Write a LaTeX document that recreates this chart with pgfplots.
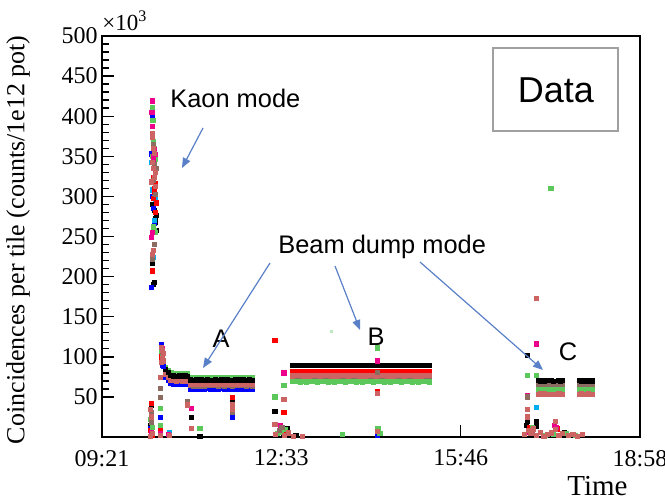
\documentclass[border=0pt]{standalone}
\usepackage{fontspec}
\setmainfont{Liberation Serif}
\newfontfamily\annfont{Liberation Sans}
\usepackage{pgfplots}
\pgfplotsset{compat=1.18}
\usepackage{pgfplotstable}
\usetikzlibrary{arrows.meta}

\definecolor{cgreen}{HTML}{5CC85C}
\definecolor{cbrown}{HTML}{8C6B60}
\definecolor{cired}{HTML}{CC6464}
\definecolor{carrow}{HTML}{5A80C8}
\definecolor{cbox}{HTML}{A0A0A0}

\pgfplotsset{dot/.style={only marks, mark=square*, mark size=1.05pt}}

% plateau levels (x = minutes after 09:21, y in units of 10^3)
\pgfplotstableread{
t   k    r    g    b    n    i
68  84.0 82.0 87.0 74.0 80.0 78.0
71  80.2 78.1 83.1 70.2 76.0 74.1
74  77.1 75.2 80.2 67.3 73.1 71.2
77  76.3 74.1 79.3 66.0 72.2 70.4
80  75.9 73.8 78.8 65.8 71.8 69.9
83  76.2 74.3 79.1 66.1 72.3 70.3
86  75.9 73.9 78.9 65.8 71.7 69.9
89  76.1 74.2 79.1 66.1 72.1 70.1
92  75.9 73.6 78.8 65.8 71.6 69.8
95  71.1 68.2 74.1 60.1 64.1 66.1
98  70.9 67.7 73.9 59.8 63.6 65.8
101 71.2 68.4 74.2 60.2 64.4 66.2
104 70.9 67.8 73.9 59.9 63.8 65.9
107 71.1 68.1 74.1 60.1 64.2 66.1
110 70.9 67.6 73.8 59.8 63.5 65.8
113 71.2 68.3 74.2 60.2 64.3 66.2
116 71.0 67.9 73.9 59.9 63.9 65.9
119 70.8 68.0 73.8 60.0 64.0 66.0
122 71.1 68.2 74.1 60.1 64.1 66.1
125 70.9 67.7 73.9 59.8 63.7 65.8
128 71.1 68.3 74.1 60.2 64.3 66.2
131 70.9 67.8 73.9 59.8 63.8 65.9
134 71.2 68.4 74.2 60.1 64.2 66.1
137 71.0 67.9 74.0 59.9 63.9 65.9
140 70.8 67.6 73.8 59.8 63.6 65.8
143 71.1 68.2 74.1 60.1 64.2 66.1
146 70.9 68.0 73.9 59.9 63.9 66.0
149 71.1 67.8 74.1 60.1 64.0 65.9
152 71.2 68.3 74.2 60.2 64.4 66.2
155 70.9 67.7 73.8 59.8 63.7 65.8
158 71.1 68.1 74.1 60.0 64.1 66.1
161 70.9 67.9 73.9 59.9 63.8 65.9
204 89.2 81.9 69.2 69.5 74.1 76.2
207 88.8 82.1 68.9 69.2 73.8 76.7
210 89.3 81.8 69.1 69.4 74.2 76.4
213 88.9 82.2 68.8 69.1 73.8 76.6
216 89.1 81.9 69.2 69.5 74.3 76.3
219 88.8 82.1 68.8 69.1 73.9 76.7
222 89.2 81.8 69.3 69.6 74.1 76.2
225 88.9 82.2 68.9 69.2 73.7 76.8
228 89.1 81.8 69.1 69.4 74.2 76.4
231 88.8 82.3 68.8 69.1 73.9 76.6
234 89.2 81.9 69.2 69.5 74.1 76.2
237 88.8 82.1 68.9 69.2 73.8 76.7
240 89.3 81.8 69.1 69.4 74.2 76.4
243 88.9 82.2 68.8 69.1 73.8 76.6
246 89.1 81.9 69.2 69.5 74.3 76.3
249 88.8 82.1 68.8 69.1 73.9 76.7
252 89.2 81.8 69.3 69.6 74.1 76.2
255 88.9 82.2 68.9 69.2 73.7 76.8
258 89.1 81.8 69.1 69.4 74.2 76.4
261 88.8 82.3 68.8 69.1 73.9 76.6
264 89.2 81.9 69.2 69.5 74.1 76.2
267 88.8 82.1 68.9 69.2 73.8 76.7
270 89.3 81.8 69.1 69.4 74.2 76.4
273 88.9 82.2 68.8 69.1 73.8 76.6
276 89.1 81.9 69.2 69.5 74.3 76.3
279 88.8 82.1 68.8 69.1 73.9 76.7
282 89.2 81.8 69.3 69.6 74.1 76.2
285 88.9 82.2 68.9 69.2 73.7 76.8
288 89.1 81.8 69.1 69.4 74.2 76.4
291 88.8 82.3 68.8 69.1 73.9 76.6
294 89.2 81.9 69.2 69.5 74.1 76.2
297 88.8 82.1 68.9 69.2 73.8 76.7
300 89.3 81.8 69.1 69.4 74.2 76.4
303 88.9 82.2 68.8 69.1 73.8 76.6
306 89.1 81.9 69.2 69.5 74.3 76.3
309 88.8 82.1 68.8 69.1 73.9 76.7
312 89.2 81.8 69.3 69.6 74.1 76.2
315 88.9 82.2 68.9 69.2 73.7 76.8
318 89.1 81.8 69.1 69.4 74.2 76.4
321 88.8 82.3 68.8 69.1 73.9 76.6
324 89.2 81.9 69.2 69.5 74.1 76.2
327 88.8 82.1 68.9 69.2 73.8 76.7
330 89.3 81.8 69.1 69.4 74.2 76.4
333 88.9 82.2 68.8 69.1 73.8 76.6
336 89.1 81.9 69.2 69.5 74.3 76.3
339 88.8 82.1 68.8 69.1 73.9 76.7
342 89.2 81.8 69.3 69.6 74.1 76.2
345 88.9 82.2 68.9 69.2 73.7 76.8
348 89.1 81.8 69.1 69.4 74.2 76.4
351 88.8 82.3 68.8 69.1 73.9 76.6
468 70.3 65.2 59.2 65.0 65.2 53.2
470 69.7 64.7 58.8 64.7 64.7 53.8
472 70.4 65.3 59.3 65.1 65.3 53.3
474 69.8 64.8 58.9 64.8 64.8 53.7
476 70.2 65.1 59.1 65.0 65.1 53.4
482 70.1 65.0 59.0 64.9 65.0 53.6
484 69.8 64.8 59.2 64.8 64.8 53.3
490 70.3 65.2 58.9 65.1 65.2 53.7
492 69.7 64.9 59.1 64.9 64.9 53.4
494 70.2 65.1 59.0 65.0 65.1 53.6
512 70.3 65.2 59.2 65.1 65.2 53.3
514 69.8 64.8 58.8 64.8 64.8 53.7
516 70.1 65.1 59.1 65.0 65.1 53.4
518 69.9 64.9 59.0 64.9 64.9 53.6
520 70.4 65.3 59.3 65.2 65.3 53.2
522 69.7 64.7 58.9 64.7 64.7 53.8
524 70.2 65.0 59.1 65.0 65.0 53.5
526 69.9 64.9 59.0 64.9 64.9 53.4
}\plateau

\begin{document}
\begin{tikzpicture}
\useasboundingbox (0,0) rectangle (332.5pt,250pt);
\begin{axis}[
  at={(51pt,31.5pt)}, anchor=south west, scale only axis,
  width=269pt, height=200.5pt,
  xmin=0, xmax=577, ymin=0, ymax=500,
  xtick={0,192.33,384.67,577},
  xticklabels={09:21,12:33,15:46,18:58},
  ytick={50,100,...,500},
  minor x tick num=4, minor y tick num=4,
  tick align=inside, xtick pos=left, ytick pos=left,
  major tick length=6pt, minor tick length=3.5pt,
  axis line style={line width=1pt},
  every tick/.style={black, line width=0.7pt},
  tick label style={font=\fontsize{12}{14}\selectfont},
  yticklabel style={xshift=1.3pt},
  xticklabel style={yshift=-3pt},
  /pgf/number format/assume math mode=true,
]
% plateaus
\addplot[dot, blue] table[x=t,y=b] {\plateau};
\addplot[dot, red] table[x=t,y=r] {\plateau};
\addplot[dot, cbrown] table[x=t,y=n] {\plateau};
\addplot[dot, cgreen] table[x=t,y=g] {\plateau};
\addplot[dot, cired] table[x=t,y=i] {\plateau};
\addplot[dot, black] table[x=t,y=k] {\plateau};
% scattered points
\addplot[dot, black] coordinates {(55,299) (54,290) (56,283) (58,276) (57,268) (55,262) (58,258) (54,217) (56,193) (55,190) (57,272) (64,95) (65,93) (66,91) (53,39) (52,14) (63,11) (96,24) (105,1) (140,44) (185.5,32) (199,10) (208,2) (456,102) (456,19) (465.5,19) (455,14) (466,13) (496,6)};
\addplot[dot, blue] coordinates {(54,399) (53,353) (55,285) (56,266) (53,187) (54,300) (64,115) (66,88) (65,90) (52,10) (63,24) (140,24) (295,2)};
\addplot[dot, cyan] coordinates {(54,308) (56,300) (57,296) (55,224) (53,342) (56,270) (72,6) (465.5,37)};
\addplot[dot, red] coordinates {(55,323) (57,316) (56,310) (58,292) (55,298) (57,280) (54,207) (56,305) (64,100) (65,101) (53,42) (52,8) (54,2) (63,8) (140,49) (185.5,120) (195,31) (194,7) (295,57) (295,9) (458,12) (488,10)};
\addplot[dot, cgreen] coordinates {(54,411) (54.5,395) (55,368) (56,360) (54,350) (57,346) (55,262) (57,255) (56,258) (64,107) (65,103) (66,96) (52,22) (54,12) (53,6) (63,36) (63,14) (105,11) (195,64) (185.5,50) (188,4) (192,6) (197,9) (295,111) (296,11) (298,4) (258,3) (456,77) (465.5,77) (481.5,310) (462,12) (475,2) (484,3) (498,4) (508,2)};
\addplot[only marks, mark=square*, mark size=0.5pt, cgreen!40] coordinates {(246,132)};
\addplot[dot, magenta] coordinates {(54,419) (53.5,405) (54,387) (56,358) (55,350) (57,352) (53,249) (54,255) (55,344) (65,110) (53,5) (63,4) (71,3) (96,36) (140,37) (195,80) (191,14) (295,95) (465.5,116) (456,52) (485,14) (459,6) (487,12)};
\addplot[dot, cbrown] coordinates {(55,365) (56,340) (58,335) (55,320) (57,303) (56,240) (54,222) (65,105) (53,30) (53,18) (63,61) (63,49) (92,44) (140,31) (193,12) (190,8) (295,81) (456,50) (461,7)};
\addplot[dot, cired] coordinates {(54,374) (54,378) (55,360) (56,354) (54,342) (55,335) (57,330) (56,324) (53,318) (55,233) (54,228) (57,312) (64,112) (65,108) (66,104) (65,98) (66,95) (64,93) (52,34) (53,25) (54,4) (52,1) (63,74) (63,2) (72,2) (92,40) (96,11) (140,40) (140,34) (195,47) (185.5,16) (186,3) (196,2) (200,5) (205,1) (215,1) (295,54) (295,7) (465.5,173) (456,34) (456,25) (486,19) (453,3) (457,8) (460,4) (463,10) (466,2) (470,6) (474,1) (478,3) (482,5) (486,9) (490,2) (494,4) (500,2) (505,3) (510,1) (515,3)};
\end{axis}
% multiplier and axis titles
\node[anchor=base west, font=\fontsize{11.5}{13}\selectfont, inner sep=0pt] at (51pt,235pt) {×10\textsuperscript{3}};
\node[rotate=90, anchor=east, font=\fontsize{13}{15}\selectfont, inner sep=0pt] at (9pt,232.5pt) {Coincidences per tile (counts/1e12 pot)};
\node[anchor=base east, font=\fontsize{14.5}{16}\selectfont, inner sep=0pt] at (314pt,2.5pt) {Time};
% annotations
\node[anchor=base west, font=\annfont\fontsize{12.7}{14}\selectfont, inner sep=0pt] at (85pt,196.5pt) {Kaon mode};
\node[anchor=base west, font=\annfont\fontsize{12.7}{14}\selectfont, inner sep=0pt] at (139pt,123.5pt) {Beam dump mode};
\node[anchor=base, font=\annfont\fontsize{12.7}{14}\selectfont, inner sep=0pt] at (110.5pt,76.5pt) {A};
\node[anchor=base, font=\annfont\fontsize{12.7}{14}\selectfont, inner sep=0pt] at (188pt,77.5pt) {B};
\node[anchor=base, font=\annfont\fontsize{12.7}{14}\selectfont, inner sep=0pt] at (284pt,70pt) {C};
\draw[carrow, line width=0.6pt, -{Triangle[length=5pt,width=4pt]}] (101.5pt,186pt) -- (91pt,166pt);
\draw[carrow, line width=0.6pt, -{Triangle[length=5pt,width=4pt]}] (135pt,118.5pt) -- (101.5pt,66pt);
\draw[carrow, line width=0.6pt, -{Triangle[length=5pt,width=4pt]}] (167.5pt,117pt) -- (180pt,85pt);
\draw[carrow, line width=0.6pt, -{Triangle[length=5pt,width=4pt]}] (210pt,119pt) -- (271.5pt,65pt);
\draw[cbox, line width=0.8pt] (246.5pt,184.5pt) rectangle (309pt,226pt);
\node[font=\annfont\fontsize{18}{20}\selectfont] at (278pt,205pt) {Data};
\end{tikzpicture}
\end{document}
